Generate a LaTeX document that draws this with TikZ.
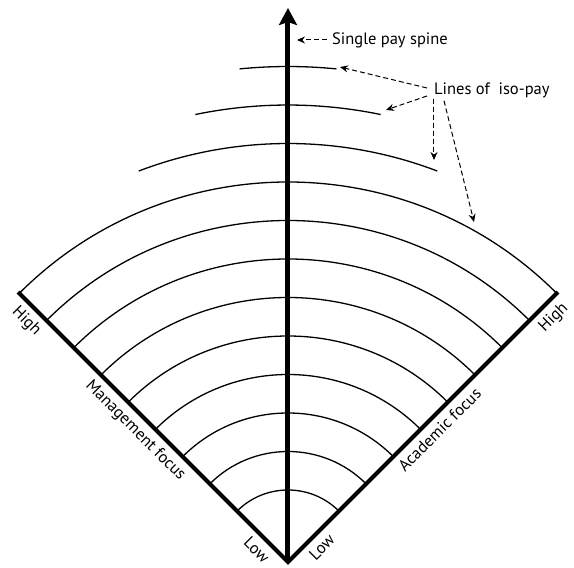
\documentclass[tikz,border=0pt]{standalone}
\usepackage{fontspec}
\setmainfont{PT Sans}
\usetikzlibrary{arrows.meta}

\begin{document}
\begin{tikzpicture}[x=1pt,y=1pt,
  lbl/.style={font=\fontsize{16.5}{18}\selectfont},
  iso/.style={line width=1.3pt},
  ptr/.style={line width=1pt,dash pattern=on 5pt off 3pt,-{Stealth[length=8pt,width=7pt]}}]
  \useasboundingbox (-288,-6) rectangle (286,562);
  \coordinate (O) at (0,0); \coordinate (L) at (135:381.8); \coordinate (R) at (45:381.8); \coordinate (top) at (0,554);
  % lines of iso-pay
  \foreach \k in {0,...,8} \draw[iso] (45:{72+38.5*\k}) arc (45:135:{72+38.5*\k});
  \draw[iso] (69.1:418.5) arc (69.1:110.9:418.5); \draw[iso] (78.3:457) arc (78.3:101.7:457); \draw[iso] (84.4:495.5) arc (84.4:95.6:495.5);
  % axes
  \draw[line width=4pt,line join=miter] (L) -- (O) -- (R);
  \draw[line width=5pt,-{Stealth[length=17pt,width=18pt,inset=3pt]}] (O) -- (top);
  \path (L) -- (O) node[lbl,sloped,below=4pt,pos=0.07] (highL) {High} node[lbl,sloped,below=4pt,pos=0.474] (mgmt) {Management focus} node[lbl,sloped,below=4pt,pos=0.92] (lowL) {Low};
  \path (O) -- (R) node[lbl,sloped,below=4pt,pos=0.09] (lowR) {Low} node[lbl,sloped,below=4pt,pos=0.526] (acad) {Academic focus} node[lbl,sloped,below=4pt,pos=0.945] (highR) {High};
  % callouts
  \node[lbl,anchor=west,inner sep=0pt] (spine) at (44,522) {Single pay spine}; \coordinate (s1) at (9,522);
  \draw[ptr] ([xshift=-5pt]spine.west) -- (s1);
  \node[lbl,anchor=west,inner sep=0pt] (iso) at (146,472) {Lines of \ iso-pay};
  \coordinate (t1) at (52,495); \coordinate (t2) at (98,452); \coordinate (t3) at (146,402); \coordinate (t4) at (186,340);
  \draw[ptr] ([xshift=-7pt,yshift=2pt]iso.west) -- (t1); \draw[ptr] ([xshift=-7pt,yshift=-6pt]iso.west) -- (t2);
  \draw[ptr] ([yshift=-1pt]iso.south west) -- (t3); \draw[ptr] ([xshift=10pt,yshift=-3pt]iso.south west) -- (t4);
\end{tikzpicture}
\end{document}
